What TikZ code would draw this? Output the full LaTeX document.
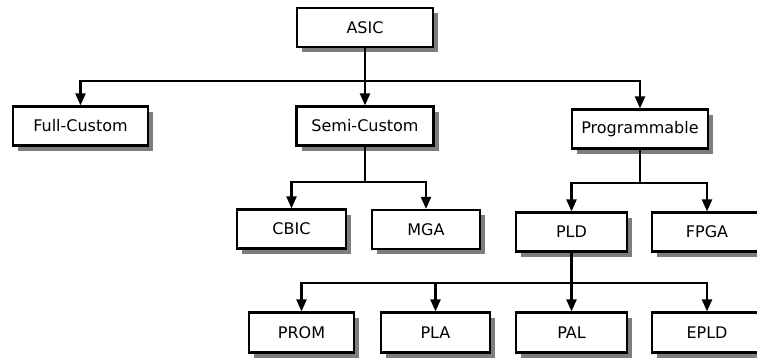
\documentclass[tikz,border=0pt]{standalone}
\usepackage{fontspec}
\setmainfont{DejaVu Sans}
\usepackage{tikz}
\usetikzlibrary{arrows.meta, positioning, shadows}
\definecolor{shadowgray}{RGB}{125, 125, 125}

\tikzset{
    blk/.style={draw=black, line width=2.2pt, fill=white, minimum height=39pt, inner sep=0pt,
        font=\fontsize{16}{18}\selectfont,
        drop shadow={shadow xshift=5pt, shadow yshift=-5pt, fill=shadowgray, opacity=1}},
    lnk/.style={line width=2.2pt},
    arr/.style={line width=2.2pt, -{Triangle[width=10pt, length=12pt]}}
}

\begin{document}
\begin{tikzpicture}[x=1pt, y=-1pt]
    \clip (0,0) rectangle (757,360);

    % top
    \node[blk, minimum width=136pt] (asic) at (365,27.5) {ASIC};

    % second row
    \node[blk, minimum width=135pt] (full) at (80.5,126) {Full-Custom};
    \node[blk, minimum width=137pt] (semi) at (365,126) {Semi-Custom};
    \node[blk, minimum width=136pt] (prog) at (640,129) {Programmable};

    % third row
    \node[blk, minimum width=109pt] (cbic) at (291.5,229) {CBIC};
    \node[blk, minimum width=108pt] (mga) at (426,229.5) {MGA};
    \node[blk, minimum width=111pt] (pld) at (571.5,232) {PLD};
    \node[blk, minimum width=110pt] (fpga) at (707,232) {FPGA};

    % bottom row
    \node[blk, minimum width=105pt, minimum height=40pt] (prom) at (301.5,332.5) {PROM};
    \node[blk, minimum width=109pt, minimum height=40pt] (pla) at (435.5,332.5) {PLA};
    \node[blk, minimum width=111pt, minimum height=40pt] (pal) at (571.5,332.5) {PAL};
    \node[blk, minimum width=110pt, minimum height=40pt] (epld) at (707,332.5) {EPLD};

    % branch points
    \coordinate (j1) at (365,81);
    \coordinate (j2) at (365,182);
    \coordinate (j3) at (640,183);
    \coordinate (j4) at (571.5,283);

    \draw[lnk] (asic) -- (j1);
    \draw[arr] (j1) -| (full);
    \draw[arr] (j1) -- (semi);
    \draw[arr] (j1) -| (prog);

    \draw[lnk] (semi) -- (j2);
    \draw[arr] (j2) -| (cbic);
    \draw[arr] (j2) -| (mga);

    \draw[lnk] (prog) -- (j3);
    \draw[arr] (j3) -| (pld);
    \draw[arr] (j3) -| (fpga);

    \draw[lnk] (pld) -- (j4);
    \draw[arr] (j4) -| (prom);
    \draw[arr] (j4) -| (pla);
    \draw[arr] (j4) -- (pal);
    \draw[arr] (j4) -| (epld);
\end{tikzpicture}
\end{document}
